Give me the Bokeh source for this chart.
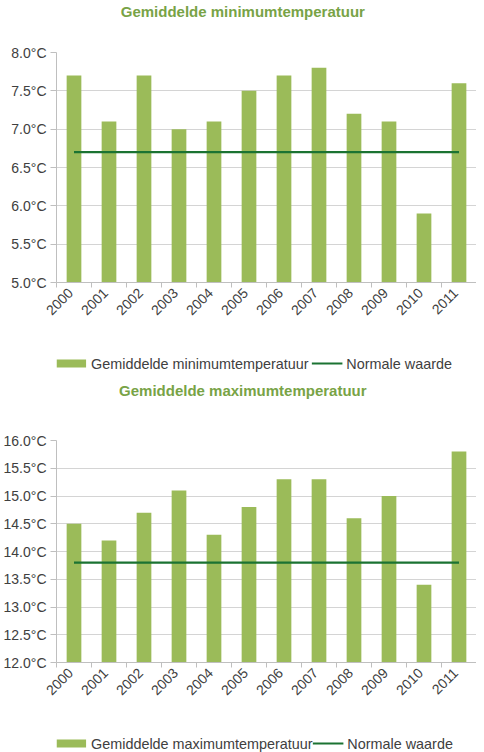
import math
from bokeh.plotting import figure
from bokeh.layouts import column
from bokeh.models import Range1d, FixedTicker, PrintfTickFormatter
from bokeh.core.properties import value
from bokeh.embed import file_html
from bokeh.resources import INLINE

years = ["2000", "2001", "2002", "2003", "2004", "2005", "2006", "2007", "2008", "2009", "2010", "2011"]
min_temp = [7.7, 7.1, 7.7, 7.0, 7.1, 7.5, 7.7, 7.8, 7.2, 7.1, 5.9, 7.6]
min_normal = [6.7] * 12
max_temp = [14.5, 14.2, 14.7, 15.1, 14.3, 14.8, 15.3, 15.3, 14.6, 15.0, 13.4, 15.8]
max_normal = [13.8] * 12
min_ticks = [5.0, 5.5, 6.0, 6.5, 7.0, 7.5, 8.0]
max_ticks = [12.0, 12.5, 13.0, 13.5, 14.0, 14.5, 15.0, 15.5, 16.0]
title_min = "Gemiddelde minimumtemperatuur"
title_max = "Gemiddelde maximumtemperatuur"
normal_label = "Normale waarde"

BAR = "#9bbb59"
LINE = "#1b7332"
TITLE = "#78a346"
TXT = "#404040"
AXIS = "#bfbfbf"
GRID = "#d4d4d4"
FONT = "Liberation Sans"
W = 476
BORDER_L = 50  # frame starts at page x = 8 + 50 = 58


def blank(height):
    # strip whose frame is aligned with the charts' frames; x data = page pixels
    p = figure(width=W, height=height, output_backend="svg", toolbar_location=None,
               x_range=Range1d(8 + BORDER_L, 8 + W), y_range=Range1d(0, height),
               x_axis_location=None, y_axis_location=None,
               min_border_left=BORDER_L, min_border_right=0,
               min_border_top=0, min_border_bottom=0)
    p.grid.grid_line_color = None
    p.outline_line_color = None
    return p


def title_fig(text, height, y_from_top):
    p = blank(height)
    p.text(x=[247], y=[height - y_from_top], text=[text], text_align="center",
           text_baseline="middle", text_color=TITLE, text_font_size="15px",
           text_font_style="bold", text_font=value(FONT))
    return p


def legend_fig(label, height, y_from_top, sw0, tx0, ln0, tx1):
    # hand-drawn horizontal legend (x in page pixels)
    p = blank(height)
    yc = height - y_from_top
    p.rect(x=[sw0 + 15], y=[yc], width=30, height=8, color=BAR, line_color=None)
    p.line(x=[ln0, ln0 + 31], y=[yc, yc], line_color=LINE, line_width=2.2)
    p.text(x=[tx0, tx1], y=[yc, yc], text=[label, normal_label], text_align="left",
           text_baseline="middle", text_color=TXT, text_font_size="14.4px",
           text_font=value(FONT))
    return p


def chart(vals, normal, ymin, ymax, yticks, height, btop, bbot):
    n = len(years)
    centers = [i + 0.5 for i in range(n)]
    p = figure(width=W, height=height, output_backend="svg", toolbar_location=None,
               x_range=Range1d(0, n), y_range=Range1d(ymin, ymax),
               min_border_left=BORDER_L, min_border_right=0,
               min_border_top=btop, min_border_bottom=bbot)
    p.outline_line_color = None

    p.vbar(x=centers, top=vals, bottom=ymin, width=0.42, color=BAR, line_color=None)
    p.line(x=centers, y=normal, line_color=LINE, line_width=2.2)

    p.yaxis.ticker = FixedTicker(ticks=yticks)
    p.yaxis.formatter = PrintfTickFormatter(format="%.1f°C")
    p.yaxis.major_label_text_font = FONT
    p.yaxis.major_label_text_font_size = "14px"
    p.yaxis.major_label_text_color = TXT
    p.yaxis.major_label_standoff = 4
    p.yaxis.axis_line_color = AXIS
    p.yaxis.major_tick_line_color = AXIS
    p.yaxis.major_tick_in = 0
    p.yaxis.major_tick_out = 6
    p.yaxis.minor_tick_line_color = None
    p.ygrid.grid_line_color = GRID
    p.xgrid.grid_line_color = None

    p.xaxis.ticker = FixedTicker(ticks=[c - 0.1 for c in centers], minor_ticks=list(range(n + 1)))
    p.xaxis.major_label_overrides = {c - 0.1: y for c, y in zip(centers, years)}
    p.xaxis.major_label_orientation = math.pi / 4
    p.xaxis.major_label_text_font = FONT
    p.xaxis.major_label_text_font_size = "14px"
    p.xaxis.major_label_text_color = TXT
    p.xaxis.major_label_standoff = 3
    p.xaxis.axis_line_color = AXIS
    p.xaxis.major_tick_line_color = None
    p.xaxis.major_tick_out = 5
    p.xaxis.minor_tick_line_color = AXIS
    p.xaxis.minor_tick_in = 0
    p.xaxis.minor_tick_out = 5
    return p


t1 = title_fig(title_min, 30, 11)
c1 = chart(min_temp, min_normal, 5.0, 8.0, min_ticks, 323, 22, 71)
l1 = legend_fig(title_min, 20, 10, 58, 93, 317, 352)
t2 = title_fig(title_max, 27, 17)
c2 = chart(max_temp, max_normal, 12.0, 16.0, max_ticks, 333, 40, 71)
l2 = legend_fig(title_max, 19, 10, 58, 93, 318, 353)

layout = column(t1, c1, l1, t2, c2, l2, spacing=0)
open("out.html", "w").write(file_html(layout, INLINE))
